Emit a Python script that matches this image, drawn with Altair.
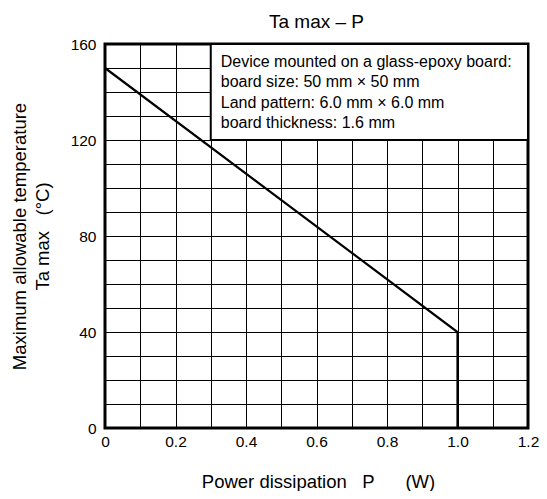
import altair as alt
import pandas as pd

# Data
p_watts = [0.0, 1.0, 1.0]
ta_max = [150, 40, 0]
point_order = [0, 1, 2]

x_ticks = [0.0, 0.1, 0.2, 0.3, 0.4, 0.5, 0.6, 0.7, 0.8, 0.9, 1.0, 1.1, 1.2]
y_ticks = [0, 10, 20, 30, 40, 50, 60, 70, 80, 90, 100, 110, 120, 130, 140, 150, 160]

note_lines = [
    "Device mounted on a glass-epoxy board:",
    "board size: 50 mm \u00d7 50 mm",
    "Land pattern: 6.0 mm \u00d7 6.0 mm",
    "board thickness: 1.6 mm",
]
note_box_x = [0.3, 1.2]
note_box_y = [120, 160]

NB = "\u00a0"
x_title = "Power dissipation" + NB * 3 + "P" + NB * 6 + "(W)"
y_title = ["Maximum allowable temperature", "Ta max" + NB * 3 + "(\u00b0C)"]

curve = pd.DataFrame({"P": p_watts, "Ta": ta_max, "o": point_order})
box = pd.DataFrame({"x": [note_box_x[0]], "x2": [note_box_x[1]],
                    "y": [note_box_y[0]], "y2": [note_box_y[1]]})

xscale = alt.Scale(domain=[0, 1.2], nice=False, zero=False)
yscale = alt.Scale(domain=[0, 160], nice=False, zero=False)

xaxis = alt.Axis(
    values=x_ticks,
    labelExpr="datum.value == 0 ? '0' : (round(datum.value*10) % 2 == 0 ? format(datum.value, '.1f') : '')",
    ticks=False, tickSize=0, domain=False,
    grid=True, gridColor="#000", gridWidth=1, gridOpacity=1,
    labelFontSize=15.5, labelColor="#000", labelPadding=6,
    labelFlush=False, labelOverlap=False,
    title=x_title, titleFontSize=18.5, titleFontWeight="normal", titleColor="#000",
    titleX=213, titleY=59, titleAlign="center", titleBaseline="alphabetic",
)
yaxis = alt.Axis(
    values=y_ticks,
    labelExpr="datum.value % 40 == 0 ? datum.label : ''",
    ticks=False, tickSize=0, domain=False,
    grid=True, gridColor="#000", gridWidth=1, gridOpacity=1,
    labelFontSize=15.5, labelColor="#000", labelPadding=9,
    labelFlush=False, labelOverlap=False,
    title=y_title, titleFontSize=18.5, titleFontWeight="normal", titleColor="#000",
    titleX=-80, titleY=192, titleAngle=270, titleAlign="center",
    titleBaseline="alphabetic", titleLineHeight=23,
)

rect = alt.Chart(box).mark_rect(fill="white", stroke="black", strokeWidth=2).encode(
    x=alt.X("x:Q", scale=xscale, axis=xaxis),
    x2="x2:Q",
    y=alt.Y("y:Q", scale=yscale, axis=yaxis),
    y2="y2:Q",
)

line = alt.Chart(curve).mark_line(color="black", strokeWidth=2.2).encode(
    x=alt.X("P:Q", scale=xscale, axis=xaxis),
    y=alt.Y("Ta:Q", scale=yscale, axis=yaxis),
    order="o:Q",
)

note = alt.Chart(box).mark_text(
    text=note_lines, align="left", baseline="middle", fontSize=16,
    lineHeight=20.4, color="black", dx=10,
).encode(
    x=alt.X("x:Q", scale=xscale, axis=xaxis),
    y=alt.value(18),
)

chart = alt.layer(rect, line, note).properties(
    width=423, height=384,
    title=alt.TitleParams("Ta max \u2013 P", fontSize=19, fontWeight="normal",
                          anchor="middle", offset=5, color="#000"),
    autosize=alt.AutoSizeParams(type="none"),
    padding={"left": 97, "top": 36, "right": 11, "bottom": 63},
).configure(font="Liberation Sans").configure_view(
    stroke="black", strokeWidth=3
)

chart.save("out.html", embed_options={"renderer": "svg", "actions": False})
